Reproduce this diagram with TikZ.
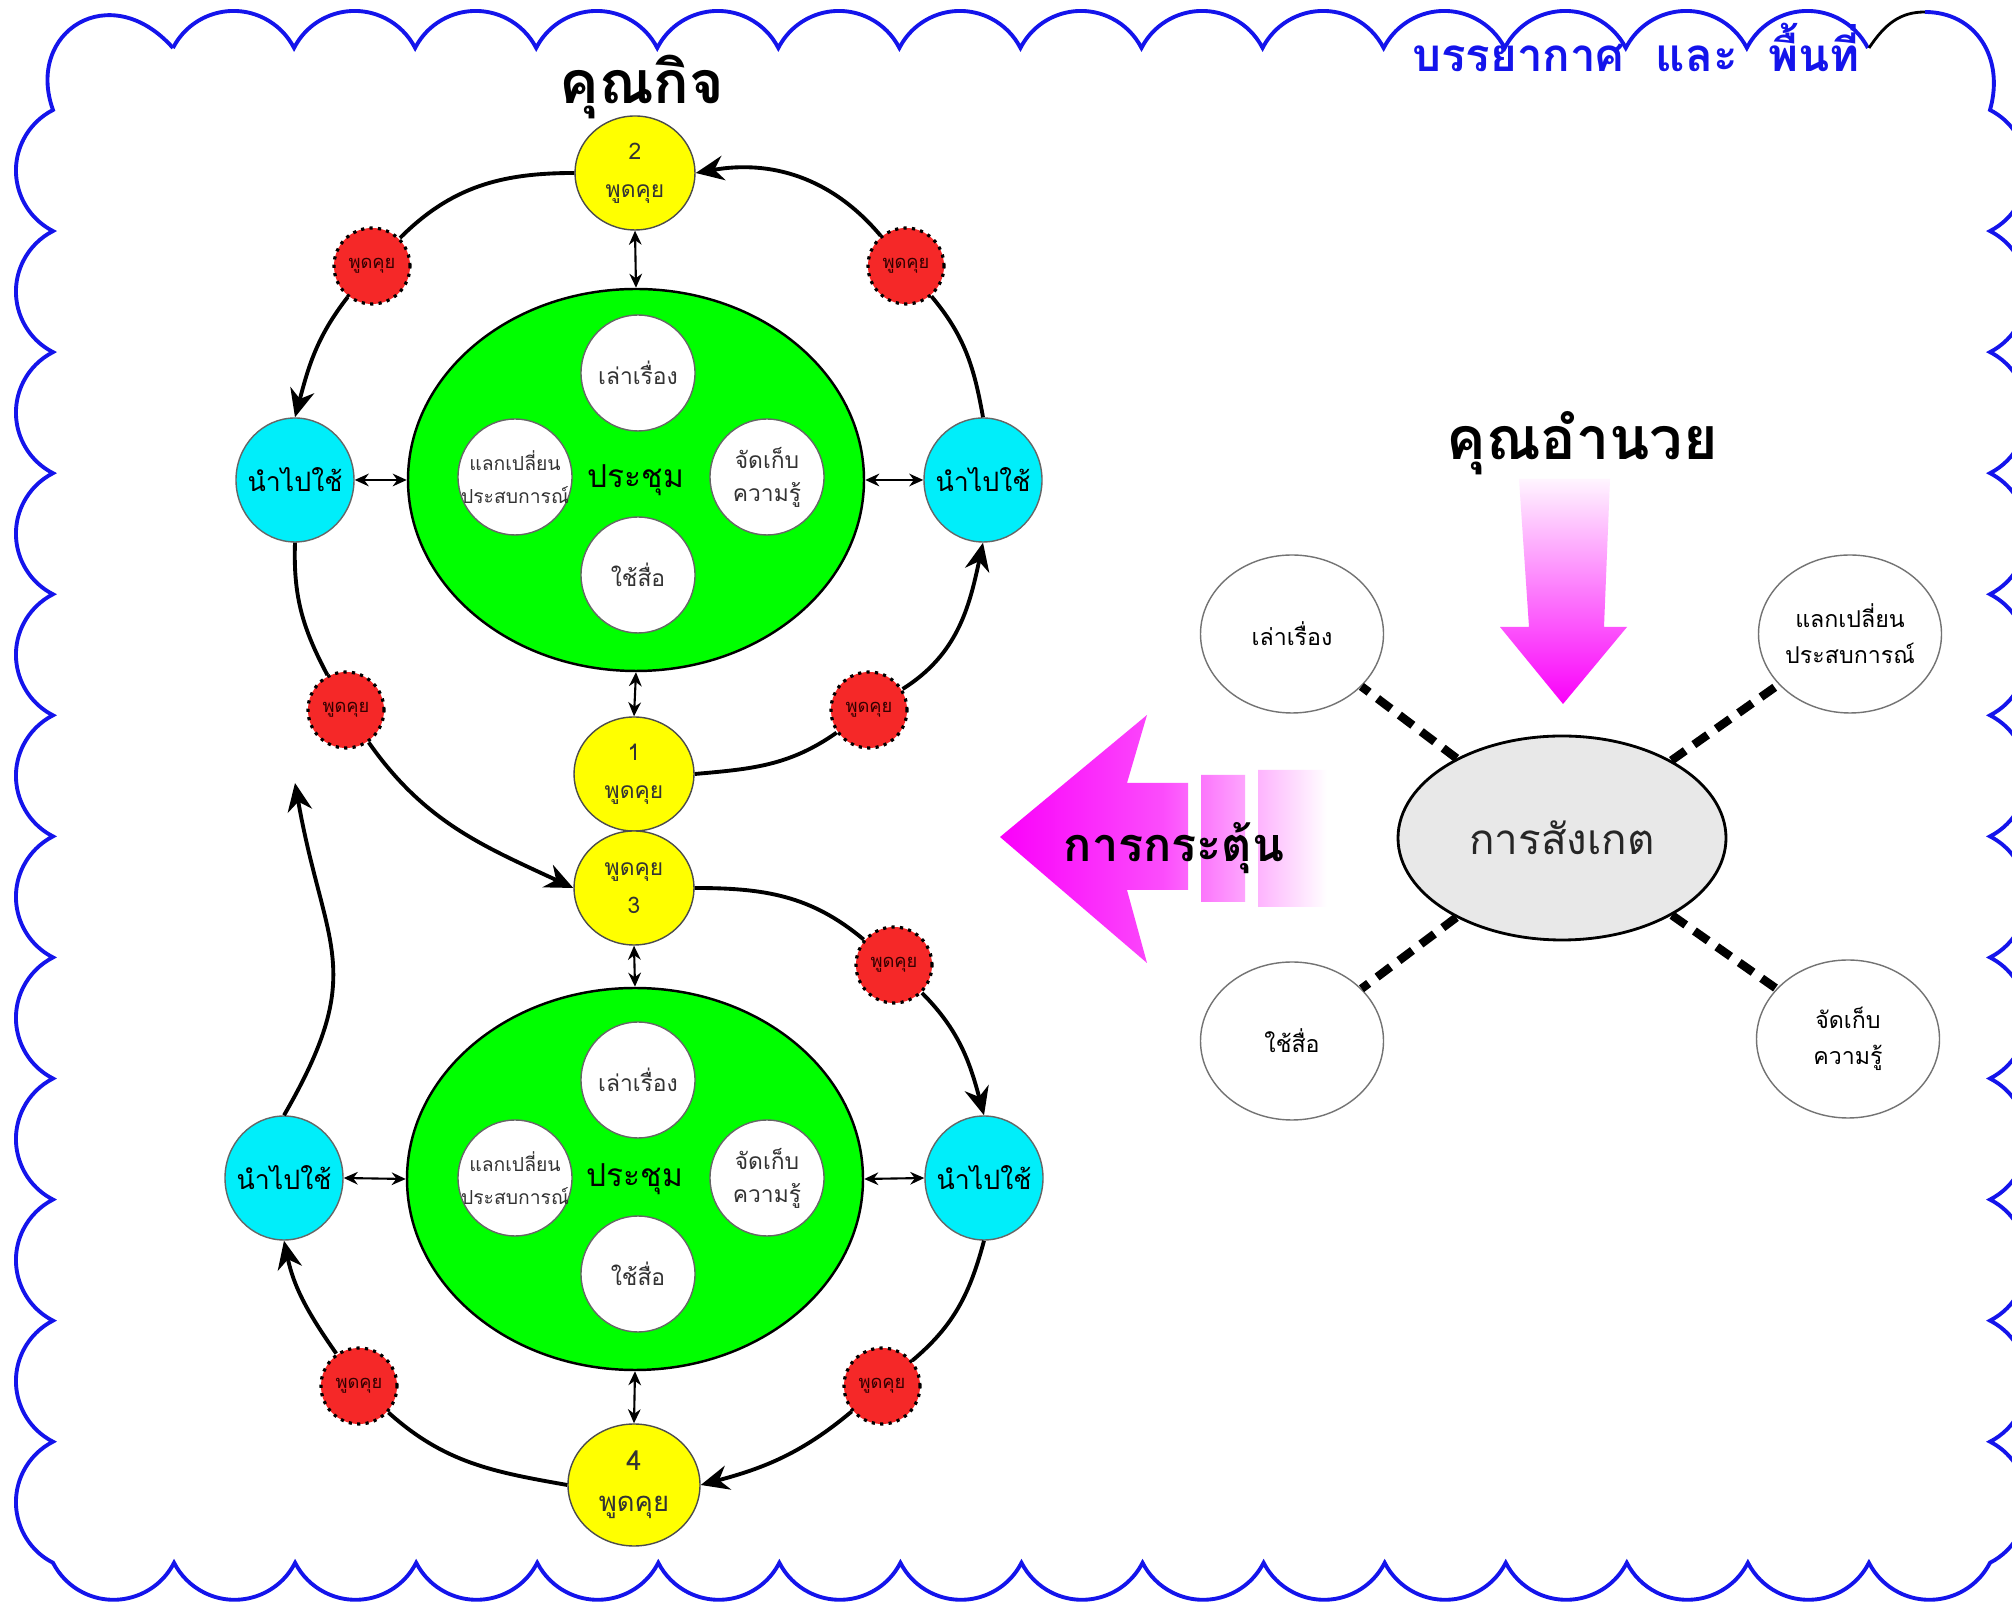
\documentclass[tikz,border=0pt]{standalone}
\usepackage{fontspec}
\usepackage{tikz}
\usetikzlibrary{arrows, arrows.meta, positioning, calc, shapes, shadings}
\newfontfamily\thaifont[Script=Thai]{Loma}
\newcommand{\tsize}[2]{\fontsize{#1}{#2}\selectfont}
\definecolor{azulito}{RGB}{20,20,235}
\definecolor{verdecito}{RGB}{0,255,0}
\definecolor{amarillito}{RGB}{255,255,0}
\definecolor{celestito}{RGB}{0,238,250}
\definecolor{coloradito}{RGB}{245,40,40}
\definecolor{fucsita}{RGB}{250,0,250}
\definecolor{grisito}{RGB}{232,232,232}
\tikzset{>=stealth,
  ring/.style={line width=1.1pt},
  flow/.style={ring, >={Stealth[length=8pt,width=7pt]}, ->},
  link/.style={line width=.6pt, >={Stealth[length=4pt,width=3.6pt]}, <->},
  talk/.style={ellipse, draw=black!70, fill=amarillito, inner sep=0pt, minimum width=1.2cm, minimum height=1.14cm, align=center, text=black!80, font=\thaifont\tsize{6.5}{10.8}},
  meet/.style={ellipse, draw, line width=.7pt, fill=verdecito, minimum width=4.56cm, minimum height=3.82cm, font=\thaifont\tsize{9}{11}},
  topic/.style={ellipse, draw=black!60, fill=white, inner xsep=-4pt, inner ysep=0pt, minimum width=1.14cm, minimum height=1.16cm, align=center, text=black!80, font=\thaifont\tsize{6.5}{9.4}},
  apply/.style={ellipse, draw=black!60, fill=celestito, inner xsep=-4pt, inner ysep=0pt, minimum width=1.18cm, minimum height=1.24cm, font=\thaifont\tsize{7.6}{10}},
  chat/.style={circle, draw=black, fill=coloradito, line width=.9pt, dash pattern=on .9pt off 1.5pt, inner sep=0pt, minimum size=.76cm, text=black!80!red, font=\thaifont\tsize{5.2}{6}},
  note/.style={ellipse, draw=black!55, line width=.4pt, fill=white, inner xsep=-3pt, inner ysep=0pt, minimum width=1.83cm, minimum height=1.58cm, align=center, font=\thaifont\tsize{6.6}{10.2}},
  spoke/.style={line width=2.4pt, dash pattern=on 4.8pt off 3pt},
  rim/.style={azulito, line width=1.1pt}
}

\begin{document}
\begin{tikzpicture}

  \useasboundingbox (0,0) rectangle (20.12,16.02);
  \clip (0,0) rectangle (20.12,16.02);
  \fill [white] (0,0) rectangle (20.12,16.02);

  % scalloped frame
  \draw [rim] (1.73,15.54) foreach \i in {1,...,14} {arc [start angle=152.9, end angle=27.1, radius=.68]};
  \draw [ring, line width=.8pt] (18.69,15.54) .. controls (18.85,15.78) and (19.0,15.90) .. (19.25,15.90);
  \draw [rim] (19.25,15.90) .. controls (19.75,15.90) and (20.05,15.45) .. (19.90,14.92)
    foreach \i in {1,...,12} {arc [start angle=62.9, end angle=-62.9, radius=.68]}
    foreach \i in {1,...,16} {arc [start angle=-27.1, end angle=-152.9, radius=.68]}
    foreach \i in {1,...,12} {arc [start angle=242.9, end angle=117.1, radius=.68]}
    .. controls (0.25,15.7) and (1.1,16.25) .. (1.73,15.54);

  \node [font=\thaifont\bfseries\tsize{16.8}{20}] (kit) at (6.42,15.15) {คุณกิจ};
  \node [azulito, font=\thaifont\bfseries\tsize{13}{16}] (space) at (16.36,15.55) {บรรยากาศ~~และ~~พื้นที่};

  % upper meeting
  \node [talk] (y2) at (6.35,14.29) {2\\พูดคุย};
  \node [meet] (g1) at (6.36,11.22) {ประชุม};
  \node [topic] (t1) at (6.38,12.29) {เล่าเรื่อง};
  \node [topic, font=\thaifont\tsize{5.5}{9.4}] (t2) at (5.15,11.25) {แลกเปลี่ยน\\ประสบการณ์};
  \node [topic] (t3) at (7.67,11.25) {จัดเก็บ\\ความรู้};
  \node [topic] (t4) at (6.38,10.27) {ใช้สื่อ};
  \node [apply] (c1) at (2.95,11.22) {นำไปใช้};
  \node [apply] (c2) at (9.83,11.22) {นำไปใช้};
  \node [talk] (y1) at (6.34,8.28) {1\\พูดคุย};

  % lower meeting
  \node [talk] (y3) at (6.34,7.14) {พูดคุย\\3};
  \node [meet] (g2) at (6.35,4.23) {ประชุม};
  \node [topic] (b1) at (6.38,5.22) {เล่าเรื่อง};
  \node [topic, font=\thaifont\tsize{5.5}{9.4}] (b2) at (5.15,4.24) {แลกเปลี่ยน\\ประสบการณ์};
  \node [topic] (b3) at (7.67,4.24) {จัดเก็บ\\ความรู้};
  \node [topic] (b4) at (6.38,3.28) {ใช้สื่อ};
  \node [apply] (c3) at (2.84,4.24) {นำไปใช้};
  \node [apply] (c4) at (9.84,4.24) {นำไปใช้};
  \node [talk, minimum width=1.32cm, minimum height=1.22cm, font=\thaifont\tsize{7.8}{11.7}] (y4) at (6.34,1.17) {4\\พูดคุย};

  \node [chat] (r1) at (3.72,13.36) {พูดคุย};
  \node [chat] (r2) at (9.06,13.36) {พูดคุย};
  \node [chat] (r3) at (3.46,8.92) {พูดคุย};
  \node [chat] (r4) at (8.69,8.92) {พูดคุย};
  \node [chat] (r5) at (8.94,6.37) {พูดคุย};
  \node [chat] (r6) at (3.59,2.16) {พูดคุย};
  \node [chat] (r7) at (8.82,2.16) {พูดคุย};
  \coordinate (loose) at (2.95,8.19);

  \draw [ring] (y2.west) to [out=180, in=45] (r1);
  \draw [flow] (r1) to [out=-128, in=75] (c1.north);
  \draw [ring] (c1.south) to [out=-92, in=118] (r3);
  \draw [flow] (r3) to [out=-55, in=155] (y3.west);
  \draw [ring] (y1.east) to [out=5, in=-145] (r4);
  \draw [flow] (r4) to [out=32, in=-102] (c2.south);
  \draw [ring] (c2.north) to [out=100, in=-50] (r2);
  \draw [flow] (r2) to [out=130, in=10] (y2.east);
  \draw [ring] (y3.east) to [out=0, in=140] (r5);
  \draw [flow] (r5) to [out=-45, in=105] (c4.north);
  \draw [ring] (c4.south) to [out=-105, in=40] (r7);
  \draw [flow] (r7) to [out=-140, in=15] (y4.east);
  \draw [ring] (y4.west) to [out=170, in=-42] (r6);
  \draw [flow] (r6) to [out=125, in=-78] (c3.south);
  \draw [flow] (c3.north) to [out=60, in=-80, looseness=1.3] (loose);

  \draw [link] (y2.south) -- (g1.north);
  \draw [link] (g1.south) -- (y1.north);
  \draw [link] (c1.east) -- (g1.west);
  \draw [link] (g1.east) -- (c2.west);
  \draw [link] (y3.south) -- (g2.north);
  \draw [link] (c3.east) -- (g2.west);
  \draw [link] (g2.east) -- (c4.west);
  \draw [link] (g2.south) -- (y4.north);

  % facilitator side
  \node [font=\thaifont\bfseries\tsize{16.8}{20}] (amnuai) at (15.82,11.59) {คุณอำนวย};
  \shade [top color=fucsita!4, bottom color=fucsita] (15.19,11.23) -- (16.10,11.23) -- (16.04,9.75) -- (16.27,9.75) -- (15.63,8.98) -- (15.00,9.75) -- (15.29,9.75) -- cycle;

  \begin{scope}
    \clip (10.00,7.65) -- (11.47,8.87) -- (11.27,8.19) -- (11.88,8.19) -- (11.88,7.12) -- (11.27,7.12) -- (11.47,6.39) -- cycle
      (12.01,8.27) rectangle (12.45,7.00)
      (12.58,8.32) rectangle (13.27,6.95);
    \shade [left color=fucsita, right color=white, middle color=fucsita!70] (10.00,6.39) rectangle (13.27,8.87);
  \end{scope}
  \node [font=\thaifont\bfseries\tsize{13.3}{16}] (push) at (11.74,7.54) {การกระตุ้น};

  \node [ellipse, draw, line width=.8pt, fill=grisito, minimum width=3.28cm, minimum height=2.04cm, text=black!85, font=\thaifont\tsize{12}{14}] (obs) at (15.62,7.64) {การสังเกต};
  \node [note] (n1) at (12.92,9.68) {เล่าเรื่อง};
  \node [note] (n2) at (18.50,9.68) {แลกเปลี่ยน\\ประสบการณ์};
  \node [note] (n3) at (12.92,5.61) {ใช้สื่อ};
  \node [note] (n4) at (18.48,5.63) {จัดเก็บ\\ความรู้};
  \foreach \n in {n1,n2,n3,n4}
    \draw [spoke] (obs) -- (\n);

\end{tikzpicture}
\end{document}
